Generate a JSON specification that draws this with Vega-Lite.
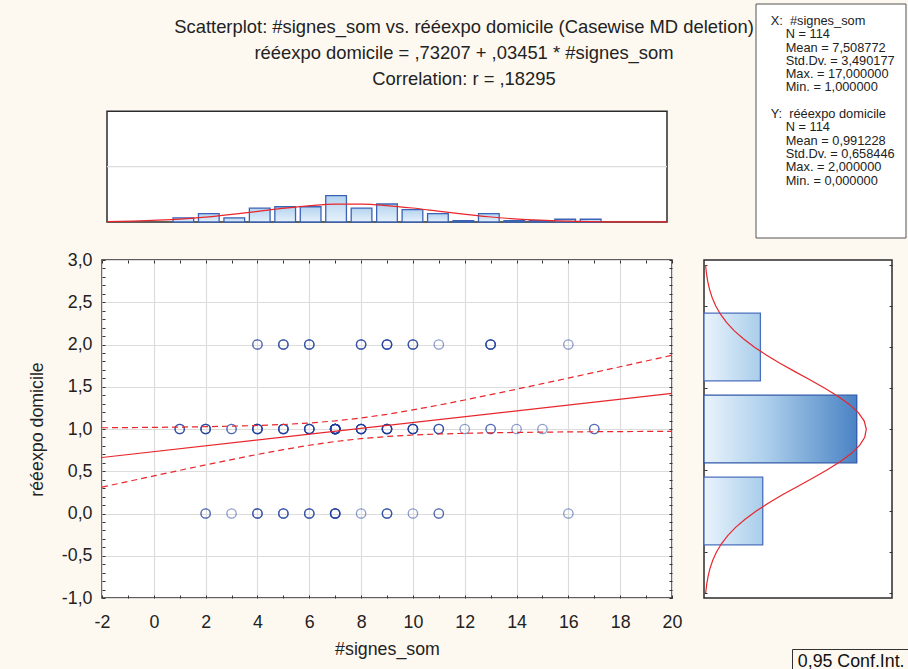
{
  "$schema": "https://vega.github.io/schema/vega-lite/v6.json",
  "background": "#fdf9f1",
  "padding": {"left": 27, "top": 3, "right": 0, "bottom": 0},
  "columns": 2,
  "bounds": "flush",
  "align": "each",
  "spacing": {"row": 22, "column": 32},
  "datasets": {
    "pts": [
      {"x":1,"y":1},{"x":1,"y":1},{"x":1,"y":1},
      {"x":2,"y":0},{"x":2,"y":0},{"x":2,"y":1},{"x":2,"y":1},{"x":2,"y":1},{"x":2,"y":1},
      {"x":3,"y":0},{"x":3,"y":1},{"x":3,"y":1},
      {"x":4,"y":0},{"x":4,"y":0},{"x":4,"y":0},{"x":4,"y":1},{"x":4,"y":1},{"x":4,"y":1},{"x":4,"y":1},{"x":4,"y":1},{"x":4,"y":2},{"x":4,"y":2},
      {"x":5,"y":0},{"x":5,"y":0},{"x":5,"y":0},{"x":5,"y":1},{"x":5,"y":1},{"x":5,"y":1},{"x":5,"y":1},{"x":5,"y":1},{"x":5,"y":2},{"x":5,"y":2},{"x":5,"y":2},
      {"x":6,"y":0},{"x":6,"y":0},{"x":6,"y":0},{"x":6,"y":1},{"x":6,"y":1},{"x":6,"y":1},{"x":6,"y":1},{"x":6,"y":1},{"x":6,"y":2},{"x":6,"y":2},{"x":6,"y":2},
      {"x":7,"y":0},{"x":7,"y":0},{"x":7,"y":0},{"x":7,"y":0},{"x":7,"y":0},{"x":7,"y":1},{"x":7,"y":1},{"x":7,"y":1},{"x":7,"y":1},{"x":7,"y":1},{"x":7,"y":1},{"x":7,"y":1},{"x":7,"y":1},{"x":7,"y":1},{"x":7,"y":1},{"x":7,"y":1},{"x":7,"y":1},{"x":7,"y":1},{"x":7,"y":1},
      {"x":8,"y":0},{"x":8,"y":1},{"x":8,"y":1},{"x":8,"y":1},{"x":8,"y":1},{"x":8,"y":1},{"x":8,"y":1},{"x":8,"y":2},{"x":8,"y":2},{"x":8,"y":2},
      {"x":9,"y":0},{"x":9,"y":0},{"x":9,"y":0},{"x":9,"y":1},{"x":9,"y":1},{"x":9,"y":1},{"x":9,"y":1},{"x":9,"y":1},{"x":9,"y":1},{"x":9,"y":2},{"x":9,"y":2},{"x":9,"y":2},{"x":9,"y":2},
      {"x":10,"y":0},{"x":10,"y":1},{"x":10,"y":1},{"x":10,"y":1},{"x":10,"y":1},{"x":10,"y":1},{"x":10,"y":2},{"x":10,"y":2},{"x":10,"y":2},
      {"x":11,"y":0},{"x":11,"y":0},{"x":11,"y":1},{"x":11,"y":1},{"x":11,"y":1},{"x":11,"y":2},
      {"x":12,"y":1},
      {"x":13,"y":1},{"x":13,"y":1},{"x":13,"y":2},{"x":13,"y":2},{"x":13,"y":2},{"x":13,"y":2},
      {"x":14,"y":1},
      {"x":15,"y":1},
      {"x":16,"y":0},{"x":16,"y":2},
      {"x":17,"y":1},{"x":17,"y":1}
    ],
    "xhist": [
      {"x":1,"n":3},{"x":2,"n":6},{"x":3,"n":3},{"x":4,"n":10},{"x":5,"n":11},{"x":6,"n":11},{"x":7,"n":19},{"x":8,"n":10},{"x":9,"n":13},
      {"x":10,"n":9},{"x":11,"n":6},{"x":12,"n":1},{"x":13,"n":6},{"x":14,"n":1},{"x":15,"n":1},{"x":16,"n":2},{"x":17,"n":2}
    ],
    "yhist": [{"v":0,"n":25},{"v":1,"n":65},{"v":2,"n":24}],
    "xcurve": [
      {"x":-2,"f":0.318},{"x":-1,"f":0.668},{"x":0,"f":1.288},{"x":1,"f":2.289},{"x":2,"f":3.750},{"x":3,"f":5.657},
      {"x":4,"f":7.861},{"x":5,"f":10.064},{"x":6,"f":11.868},{"x":7,"f":12.892},{"x":8,"f":12.902},{"x":9,"f":11.893},
      {"x":10,"f":10.100},{"x":11,"f":7.901},{"x":12,"f":5.693},{"x":13,"f":3.779},{"x":14,"f":2.311},{"x":15,"f":1.302},
      {"x":16,"f":0.676},{"x":17,"f":0.323},{"x":18,"f":0.142},{"x":19,"f":0.058},{"x":20,"f":0.022}
    ],
    "ycurve": [
      {"v":-1.0,"f":0.714},{"v":-0.9,"f":1.117},{"v":-0.8,"f":1.707},{"v":-0.7,"f":2.552},{"v":-0.6,"f":3.726},
      {"v":-0.5,"f":5.313},{"v":-0.4,"f":7.410},{"v":-0.3,"f":10.098},{"v":-0.2,"f":13.445},{"v":-0.1,"f":17.493},
      {"v":0.0,"f":22.243},{"v":0.1,"f":27.636},{"v":0.2,"f":33.553},{"v":0.3,"f":39.809},{"v":0.4,"f":46.154},
      {"v":0.5,"f":52.291},{"v":0.6,"f":57.893},{"v":0.7,"f":62.634},{"v":0.8,"f":66.217},{"v":0.9,"f":68.410},
      {"v":1.0,"f":69.064},{"v":1.1,"f":68.134},{"v":1.2,"f":65.683},{"v":1.3,"f":61.879},{"v":1.4,"f":56.964},
      {"v":1.5,"f":51.244},{"v":1.6,"f":45.047},{"v":1.7,"f":38.697},{"v":1.8,"f":32.485},{"v":1.9,"f":26.647},
      {"v":2.0,"f":21.360},{"v":2.1,"f":16.731},{"v":2.2,"f":12.808},{"v":2.3,"f":9.579},{"v":2.4,"f":7.001},
      {"v":2.5,"f":5.002},{"v":2.6,"f":3.491},{"v":2.7,"f":2.382},{"v":2.8,"f":1.588},{"v":2.9,"f":1.034},{"v":3.0,"f":0.658}
    ],
    "reg": [{"x":-2,"y":0.66305},{"x":20,"y":1.42227}],
    "ci": [
      {"x":-2,"b":"upper","y":1.0145},{"x":-1,"b":"upper","y":1.0167},{"x":0,"b":"upper","y":1.0193},{"x":1,"b":"upper","y":1.0227},
      {"x":2,"b":"upper","y":1.0272},{"x":3,"b":"upper","y":1.0332},{"x":4,"b":"upper","y":1.0416},{"x":5,"b":"upper","y":1.0534},
      {"x":6,"b":"upper","y":1.0707},{"x":7,"b":"upper","y":1.0956},{"x":8,"b":"upper","y":1.1300},{"x":9,"b":"upper","y":1.1739},
      {"x":10,"b":"upper","y":1.2256},{"x":11,"b":"upper","y":1.2827},{"x":12,"b":"upper","y":1.3433},{"x":13,"b":"upper","y":1.4063},
      {"x":14,"b":"upper","y":1.4708},{"x":15,"b":"upper","y":1.5364},{"x":16,"b":"upper","y":1.6028},{"x":17,"b":"upper","y":1.6696},
      {"x":18,"b":"upper","y":1.7369},{"x":19,"b":"upper","y":1.8046},{"x":20,"b":"upper","y":1.8724},
      {"x":-2,"b":"lower","y":0.3116},{"x":-1,"b":"lower","y":0.3785},{"x":0,"b":"lower","y":0.4448},{"x":1,"b":"lower","y":0.5104},
      {"x":2,"b":"lower","y":0.5750},{"x":3,"b":"lower","y":0.6380},{"x":4,"b":"lower","y":0.6987},{"x":5,"b":"lower","y":0.7558},
      {"x":6,"b":"lower","y":0.8076},{"x":7,"b":"lower","y":0.8517},{"x":8,"b":"lower","y":0.8863},{"x":9,"b":"lower","y":0.9114},
      {"x":10,"b":"lower","y":0.9287},{"x":11,"b":"lower","y":0.9407},{"x":12,"b":"lower","y":0.9490},{"x":13,"b":"lower","y":0.9551},
      {"x":14,"b":"lower","y":0.9596},{"x":15,"b":"lower","y":0.9630},{"x":16,"b":"lower","y":0.9657},{"x":17,"b":"lower","y":0.9678},
      {"x":18,"b":"lower","y":0.9696},{"x":19,"b":"lower","y":0.9710},{"x":20,"b":"lower","y":0.9721}
    ],
    "stats": [
      {"line":1,"col":0,"text":"X:\u00a0\u00a0#signes_som"},
      {"line":2,"col":1,"text":"N = 114"},
      {"line":3,"col":1,"text":"Mean = 7,508772"},
      {"line":4,"col":1,"text":"Std.Dv. = 3,490177"},
      {"line":5,"col":1,"text":"Max. = 17,000000"},
      {"line":6,"col":1,"text":"Min. = 1,000000"},
      {"line":8,"col":0,"text":"Y:\u00a0\u00a0rééexpo domicile"},
      {"line":9,"col":1,"text":"N = 114"},
      {"line":10,"col":1,"text":"Mean = 0,991228"},
      {"line":11,"col":1,"text":"Std.Dv. = 0,658446"},
      {"line":12,"col":1,"text":"Max. = 2,000000"},
      {"line":13,"col":1,"text":"Min. = 0,000000"}
    ]
  },
  "concat": [
    {
      "width": 570,
      "height": 218,
      "view": {"stroke": null, "fill": null},
      "title": {
        "text": ["Scatterplot: #signes_som vs. rééexpo domicile (Casewise MD deletion)", "rééexpo domicile = ,73207 + ,03451 * #signes_som", "Correlation: r = ,18295"],
        "anchor": "middle",
        "frame": "group",
        "baseline": "top",
        "offset": -84,
        "dx": 77,
        "lineHeight": 26
      },
      "layer": [
        {
          "data": {"values": [{}]},
          "mark": {"type": "rect", "fill": "white", "stroke": "#2b2b2b", "strokeWidth": 1.5},
          "encoding": {
            "x": {"datum": -2, "type": "quantitative", "scale": {"domain": [-2, 20], "nice": false, "zero": false},
                  "axis": {"values": [0,2,4,6,8,10,12,14,16,18], "labels": false, "grid": false, "domain": false, "tickSize": -3, "zindex": 1, "title": null}},
            "x2": {"datum": 20},
            "y": {"datum": 0, "type": "quantitative", "scale": {"domain": [0, 157.5], "nice": false, "zero": false},
                  "axis": {"values": [0,40,80], "ticks": false, "grid": false, "domain": false, "labelPadding": 10, "title": null}},
            "y2": {"datum": 80}
          }
        },
        {
          "data": {"values": [{}]},
          "mark": {"type": "rule", "color": "#dcdcdc", "strokeWidth": 1.2},
          "encoding": {
            "x": {"datum": -2, "type": "quantitative", "axis": null},
            "x2": {"datum": 20},
            "y": {"datum": 40, "type": "quantitative", "axis": null}
          }
        },
        {
          "data": {"name": "xhist"},
          "mark": {"type": "bar", "width": 20.7, "stroke": "#3b63b5", "strokeWidth": 1.3,
                   "fill": {"x1": 0, "y1": 0, "x2": 0, "y2": 1, "gradient": "linear", "stops": [{"offset": 0, "color": "#b4d3ef"}, {"offset": 1, "color": "#e6f1fb"}]}},
          "encoding": {
            "x": {"field": "x", "type": "quantitative", "axis": null},
            "y": {"field": "n", "type": "quantitative", "axis": null}
          }
        },
        {
          "data": {"name": "xcurve"},
          "mark": {"type": "line", "color": "#e8262b", "strokeWidth": 1.2, "interpolate": "monotone"},
          "encoding": {
            "x": {"field": "x", "type": "quantitative", "axis": null},
            "y": {"field": "f", "type": "quantitative", "axis": null}
          }
        }
      ]
    },
    {
      "width": 203,
      "height": 234,
      "view": {"stroke": null, "fill": null},
      "layer": [
        {
          "data": {"values": [{}]},
          "mark": {"type": "rect", "fill": "white", "stroke": "#555555", "strokeWidth": 1},
          "encoding": {
            "x": {"datum": -0.98, "type": "quantitative", "scale": {"domain": [-4.447, 9.087], "nice": false, "zero": false}, "axis": null},
            "x2": {"datum": 9.02},
            "y": {"datum": -0.278, "type": "quantitative", "scale": {"domain": [-0.278, 17.316], "nice": false, "zero": false, "reverse": true}, "axis": null},
            "y2": {"datum": 17.316}
          }
        },
        {
          "data": {"name": "stats"},
          "mark": {"type": "text", "align": "left", "baseline": "middle", "font": "Liberation Sans", "fontSize": 12.8, "color": "#222222"},
          "encoding": {
            "x": {"field": "col", "type": "quantitative", "axis": null},
            "y": {"field": "line", "type": "quantitative", "axis": null},
            "text": {"field": "text"}
          }
        }
      ]
    },
    {
      "width": 570,
      "height": 338,
      "layer": [
        {
          "data": {"name": "pts"},
          "mark": {"type": "point", "shape": "circle", "filled": false, "size": 88, "stroke": "#1c3c9c", "strokeWidth": 1.3, "strokeOpacity": 0.72},
          "encoding": {
            "x": {"field": "x", "type": "quantitative", "scale": {"domain": [-2, 20], "nice": false, "zero": false},
                  "axis": {"orient": "bottom", "values": [-2,-1,0,1,2,3,4,5,6,7,8,9,10,11,12,13,14,15,16,17,18,19,20],
                           "labelExpr": "datum.value % 2 == 0 ? replace(format(datum.value, 'd'), '\u2212', '-') : ''",
                           "tickSize": -3, "labelPadding": 18, "grid": true,
                           "gridOpacity": {"condition": {"test": "datum.value % 2 != 0", "value": 0}, "value": 1},
                           "title": "#signes_som", "titlePadding": 10, "labelFlush": false, "labelOverlap": false}},
            "y": {"field": "y", "type": "quantitative", "scale": {"domain": [-1, 3], "nice": false, "zero": false},
                  "axis": {"orient": "left", "values": [-1,-0.9,-0.8,-0.7,-0.6,-0.5,-0.4,-0.3,-0.2,-0.1,0,0.1,0.2,0.3,0.4,0.5,0.6,0.7,0.8,0.9,1,1.1,1.2,1.3,1.4,1.5,1.6,1.7,1.8,1.9,2,2.1,2.2,2.3,2.4,2.5,2.6,2.7,2.8,2.9,3],
                           "labelExpr": "abs(datum.value*2-round(datum.value*2)) < 0.001 ? replace(replace(format(datum.value, '.1f'), '.', ','), '\u2212', '-') : ''",
                           "tickSize": -3, "labelPadding": 13, "grid": true,
                           "gridOpacity": {"condition": {"test": "abs(datum.value*2-round(datum.value*2)) > 0.001", "value": 0}, "value": 1},
                           "title": "rééexpo domicile", "titlePadding": 15, "labelFlush": false, "labelOverlap": false}}
          }
        },
        {
          "data": {"name": "ci"},
          "mark": {"type": "line", "color": "#e8262b", "strokeWidth": 1.2},
          "encoding": {
            "x": {"field": "x", "type": "quantitative",
                  "axis": {"orient": "top", "values": [-2,-1,0,1,2,3,4,5,6,7,8,9,10,11,12,13,14,15,16,17,18,19,20], "labels": false, "tickSize": -3, "grid": false, "title": null}},
            "y": {"field": "y", "type": "quantitative",
                  "axis": {"orient": "right", "values": [-1,-0.9,-0.8,-0.7,-0.6,-0.5,-0.4,-0.3,-0.2,-0.1,0,0.1,0.2,0.3,0.4,0.5,0.6,0.7,0.8,0.9,1,1.1,1.2,1.3,1.4,1.5,1.6,1.7,1.8,1.9,2,2.1,2.2,2.3,2.4,2.5,2.6,2.7,2.8,2.9,3], "labels": false, "tickSize": -3, "grid": false, "title": null}},
            "detail": {"field": "b"},
            "strokeDash": {"datum": "0,95 Conf.Int.", "type": "nominal", "scale": {"range": [[6, 4]]},
                           "legend": {"orient": "none", "legendX": 690, "legendY": 645, "title": null, "symbolOpacity": 0, "symbolSize": 0, "symbolStrokeWidth": 0, "labelOffset": -16,
                                      "labelFont": "Liberation Sans", "labelFontSize": 17.8, "labelColor": "#111111", "padding": 4, "strokeColor": "#333333"}}
          }
        },
        {
          "data": {"name": "reg"},
          "mark": {"type": "line", "color": "#e8262b", "strokeWidth": 1.2},
          "encoding": {
            "x": {"field": "x", "type": "quantitative", "axis": null},
            "y": {"field": "y", "type": "quantitative", "axis": null}
          }
        }
      ],
      "resolve": {"axis": {"x": "independent", "y": "independent"}}
    },
    {
      "width": 188,
      "height": 338,
      "layer": [
        {
          "data": {"name": "yhist"},
          "transform": [{"filter": "datum.v != 1"}],
          "mark": {"type": "bar", "orient": "horizontal", "height": 67.6, "stroke": "#4a6fbd", "strokeWidth": 1.3,
                   "fill": {"x1": 0, "y1": 0, "x2": 1, "y2": 0, "gradient": "linear", "stops": [{"offset": 0, "color": "#eaf4fc"}, {"offset": 1, "color": "#a9cdea"}]}},
          "encoding": {
            "x": {"field": "n", "type": "quantitative", "scale": {"domain": [0, 80], "nice": false},
                  "axis": {"values": [0, 40, 80], "grid": true, "ticks": false, "labelPadding": 15, "title": null, "labelFlush": false}},
            "y": {"field": "v", "type": "quantitative", "scale": {"domain": [-1, 3], "nice": false, "zero": false},
                  "axis": {"orient": "left", "values": [-1,-0.5,0,0.5,1,1.5,2,2.5,3], "labels": false, "tickSize": -3, "grid": false, "title": null}}
          }
        },
        {
          "data": {"name": "yhist"},
          "transform": [{"filter": "datum.v == 1"}],
          "mark": {"type": "bar", "orient": "horizontal", "height": 67.6, "stroke": "#2f58aa", "strokeWidth": 1.3,
                   "fill": {"x1": 0, "y1": 0, "x2": 1, "y2": 0, "gradient": "linear", "stops": [{"offset": 0, "color": "#eaf4fc"}, {"offset": 0.4, "color": "#aed0ec"}, {"offset": 1, "color": "#4a83c4"}]}},
          "encoding": {
            "x": {"field": "n", "type": "quantitative", "axis": null},
            "y": {"field": "v", "type": "quantitative", "axis": null}
          }
        },
        {
          "data": {"name": "ycurve"},
          "mark": {"type": "line", "color": "#e8262b", "strokeWidth": 1.2},
          "encoding": {
            "x": {"field": "f", "type": "quantitative", "axis": null},
            "y": {"field": "v", "type": "quantitative",
                  "axis": {"orient": "right", "values": [-1,-0.5,0,0.5,1,1.5,2,2.5,3], "labels": false, "tickSize": -3, "grid": false, "title": null}},
            "order": {"field": "v"}
          }
        }
      ],
      "resolve": {"axis": {"y": "independent"}}
    }
  ],
  "config": {
    "font": "Liberation Sans",
    "view": {"stroke": "#2b2b2b", "strokeWidth": 1.5, "fill": "white"},
    "axis": {
      "labelFont": "Liberation Sans", "labelFontSize": 17.8, "labelColor": "#222222",
      "titleFont": "Liberation Sans", "titleFontSize": 17.8, "titleFontWeight": "normal", "titleColor": "#222222",
      "tickColor": "#333333", "tickWidth": 1, "gridColor": "#dcdcdc", "gridWidth": 1.2, "domain": false
    },
    "title": {"font": "Liberation Sans", "fontSize": 18.4, "fontWeight": "normal", "color": "#222222"}
  }
}
